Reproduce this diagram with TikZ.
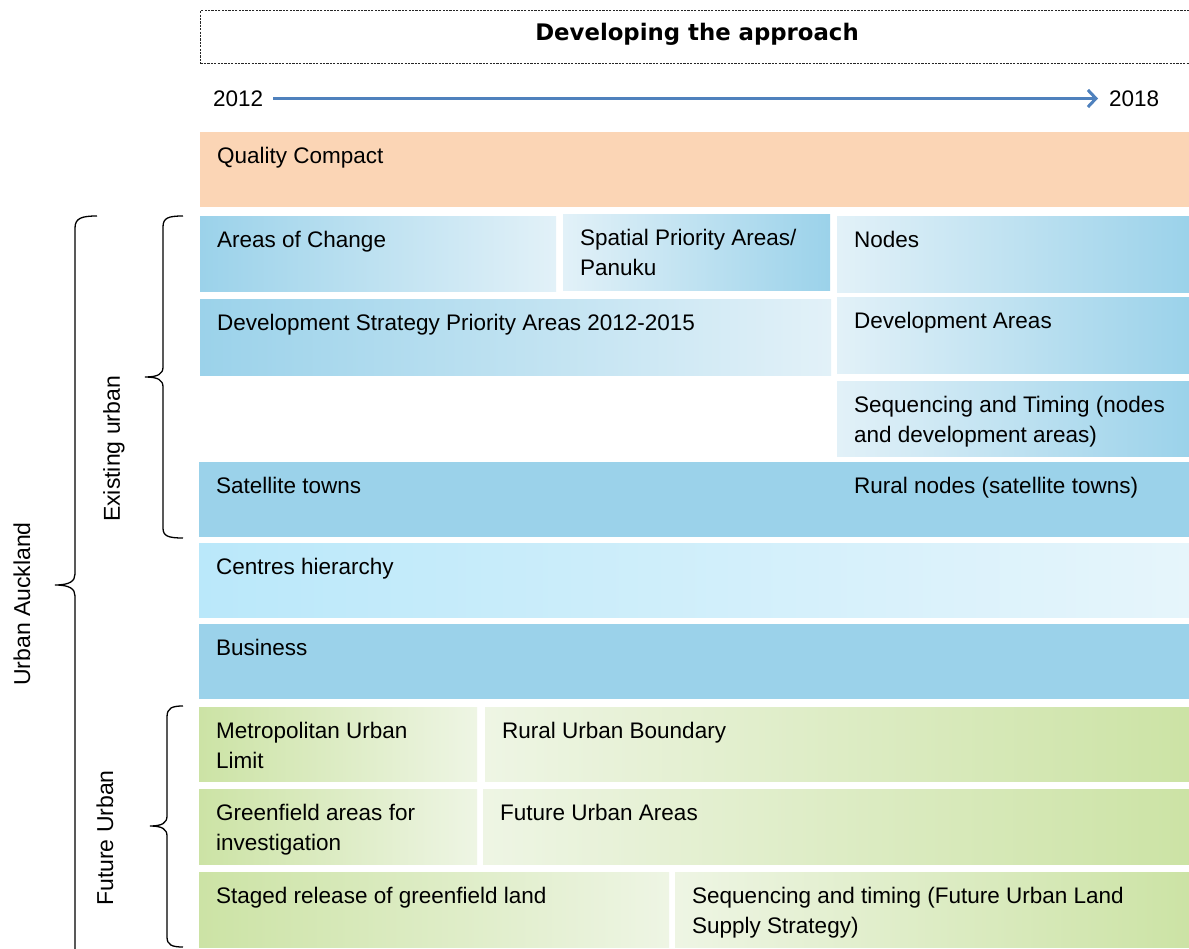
\documentclass[tikz,border=0pt]{standalone}
\usepackage{fontspec}
\setmainfont{Liberation Sans}
\newfontfamily\titlefont{DejaVu Sans}
\usetikzlibrary{arrows.meta}
\definecolor{peach}{HTML}{FBD5B5}
\definecolor{bdark}{HTML}{9BD2EA}
\definecolor{blight}{HTML}{E2F1F8}
\definecolor{cleft}{HTML}{BAE8FA}
\definecolor{cright}{HTML}{E6F5FB}
\definecolor{gdark}{HTML}{CCE3A5}
\definecolor{glight}{HTML}{EEF5E4}
\definecolor{arrowblue}{HTML}{4F81BD}
\tikzset{
  panel/.style={anchor=north west, inner sep=0pt, draw=none},
  ptext/.style={anchor=north west, inner sep=0pt, align=left, text=black,
    font=\fontsize{22.5}{29.5}\selectfont},
  bdl/.style={left color=bdark, right color=blight},
  bld/.style={left color=blight, right color=bdark},
  bsolid/.style={fill=bdark},
  cgrad/.style={left color=cleft, right color=cright},
  gdl/.style={left color=gdark, right color=glight},
  gld/.style={left color=glight, right color=gdark},
  osolid/.style={fill=peach},
  bracket/.style={draw=black, line width=1.3pt},
  sidelabel/.style={rotate=90, inner sep=0pt, font=\fontsize{23}{29}\selectfont},
}
\newcommand\pbox[7]{%
  \node[panel,#6,minimum width={(#4-#2)*1pt},minimum height={(#5-#3)*1pt}] (#1) at (#2,#3) {};
  \node[ptext] (#1t) at ([shift={(17,13.5)}]#1.north west) {\rule{0pt}{18pt}#7};
}
\begin{document}
\begin{tikzpicture}[x=1pt,y=-1pt]
\useasboundingbox (0,0) rectangle (1189,949);
\clip (0,0) rectangle (1189,949);
\fill[white] (0,0) rectangle (1189,949);

% title
\node[anchor=north west, draw=black!85, line width=1.1pt, dash pattern=on 2.2pt off 1.2pt,
  minimum width=1000pt, minimum height=53pt, inner sep=0pt] (title) at (200,10) {};
\node[font=\titlefont\bfseries\fontsize{22.8}{26}\selectfont, inner sep=0pt] (titletext) at (697,34) {Developing the approach};

% timeline
\node[anchor=west, inner sep=0pt, font=\fontsize{22.5}{29}\selectfont] (y12) at (213,98.5) {2012};
\node[anchor=west, inner sep=0pt, font=\fontsize{22.5}{29}\selectfont] (y18) at (1109,98.5) {2018};
\draw[arrowblue, line width=3pt, -{Straight Barb[length=8pt,width=17pt,line width=3pt]}]
  ([xshift=10pt]y12.east) -- ([xshift=-11pt]y18.west);

% panels
\pbox{qc}{200}{132}{1189}{207}{osolid}{Quality Compact}
\pbox{aoc}{200}{216}{556}{291}{bdl}{Areas of Change}
\pbox{spa}{563}{214}{830}{290}{bld}{Spatial Priority Areas/\\Panuku}
\pbox{nod}{837}{216}{1189}{292}{bld}{Nodes}
\pbox{dsp}{200}{299}{831}{375}{bdl}{Development Strategy Priority Areas 2012-2015}
\pbox{dva}{837}{297}{1189}{373}{bld}{Development Areas}
\pbox{seq}{837}{381}{1189}{456}{bld}{Sequencing and Timing (nodes\\and development areas)}
\pbox{sat}{199}{462}{1189}{537}{bsolid}{Satellite towns}
\node[ptext] (rur) at ([shift={(655,13.5)}]sat.north west) {\rule{0pt}{18pt}Rural nodes (satellite towns)};
\pbox{cen}{199}{543}{1189}{617}{cgrad}{Centres hierarchy}
\pbox{bus}{199}{624}{1189}{699}{bsolid}{Business}
\pbox{mul}{199}{707}{477}{781}{gdl}{Metropolitan Urban\\Limit}
\pbox{rub}{485}{707}{1189}{781}{gld}{Rural Urban Boundary}
\pbox{gfa}{199}{789}{477}{864}{gdl}{Greenfield areas for\\investigation}
\pbox{fua}{483}{789}{1189}{864}{gld}{Future Urban Areas}
\pbox{srg}{199}{872}{669}{947}{gdl}{Staged release of greenfield land}
\pbox{sqt}{675}{872}{1189}{947}{gld}{Sequencing and timing (Future Urban Land\\Supply Strategy)}

% brackets
\coordinate (ua1) at (97,216);
\coordinate (uatip) at (55,585);
\coordinate (ua2) at (97,970);
\draw[bracket] (ua1) .. controls (82,216) and (75,218) .. (75,228) -- (75,574)
  .. controls (75,581) and (70,585) .. (uatip)
  .. controls (70,585) and (75,589) .. (75,596) -- (75,960) .. controls (75,965) and (82,970) .. (ua2);
\coordinate (eu1) at (183,216);
\coordinate (eutip) at (145,377);
\coordinate (eu2) at (183,538);
\draw[bracket] (eu1) .. controls (168,216) and (163,218) .. (163,227) -- (163,367)
  .. controls (163,374) and (158,377) .. (eutip)
  .. controls (158,377) and (163,380) .. (163,387) -- (163,528) .. controls (163,536) and (168,538) .. (eu2);
\coordinate (fu1) at (183,706);
\coordinate (futip) at (150,826);
\coordinate (fu2) at (183,947);
\draw[bracket] (fu1) .. controls (172,706) and (167,708) .. (167,717) -- (167,816)
  .. controls (167,823) and (162,826) .. (futip)
  .. controls (162,826) and (167,829) .. (167,836) -- (167,937) .. controls (167,945) and (172,947) .. (fu2);

\node[sidelabel] (ualab) at (22,604) {Urban Auckland};
\node[sidelabel] (eulab) at (114,449) {Existing urban};
\node[sidelabel] (fulab) at (105,838) {Future Urban};
\end{tikzpicture}
\end{document}
